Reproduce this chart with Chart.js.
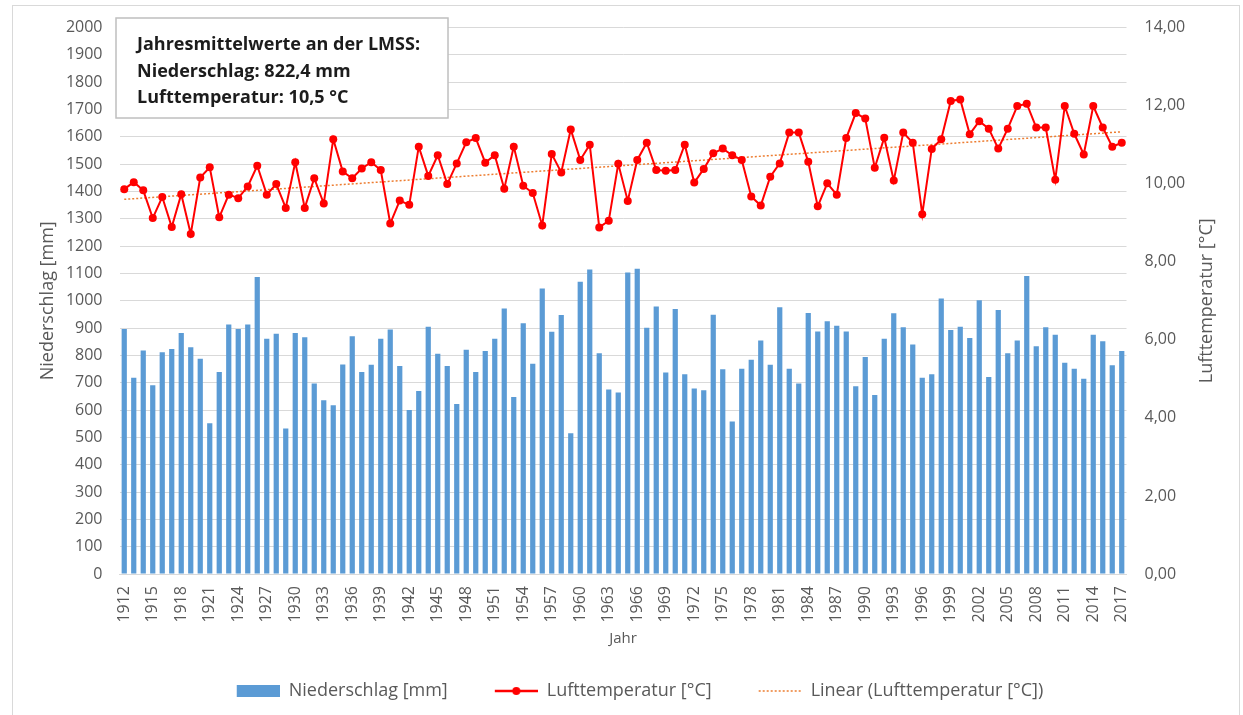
<!DOCTYPE html>
<html>
<head>
<meta charset="utf-8">
<title>Jahresmittelwerte an der LMSS</title>
<script src="https://cdn.jsdelivr.net/npm/chart.js@4.4.0/dist/chart.umd.min.js"></script>
<style>
  html, body { margin: 0; padding: 0; background: #fff; }
  #wrap { position: relative; width: 1243px; height: 715px; }
</style>
</head>
<body>
<div id="wrap"><canvas id="chart"></canvas></div>
<script>
// years 1912..2017 (categories)
const firstYear = 1912, lastYear = 2017;
const years = [];
for (let y = firstYear; y <= lastYear; y++) years.push(String(y));

// Niederschlag [mm], one value per year
const niederschlag = [
  897, 718, 818, 691, 812, 824, 882, 830, 788, 552,   // 1912-1921
  739, 913, 897, 913, 1087, 861, 879, 533, 882, 867,  // 1922-1931
  697, 636, 618, 767, 870, 739, 766, 861, 895, 761,   // 1932-1941
  600, 670, 905, 806, 761, 622, 821, 739, 816, 861,   // 1942-1951
  972, 648, 918, 770, 1045, 887, 948, 515, 1070, 1115,// 1952-1961
  808, 675, 664, 1104, 1117, 901, 979, 738, 970, 731, // 1962-1971
  679, 673, 949, 749, 558, 751, 784, 855, 766, 976,   // 1972-1981
  751, 697, 955, 888, 925, 909, 888, 687, 794, 655,   // 1982-1991
  861, 954, 903, 840, 718, 731, 1008, 893, 905, 864,  // 1992-2001
  1002, 721, 966, 808, 855, 1091, 834, 903, 876, 773, // 2002-2011
  751, 715, 876, 852, 764, 816                        // 2012-2017
];

// Lufttemperatur [°C], one value per year
const lufttemperatur = [
  9.86, 10.04, 9.83, 9.12, 9.66, 8.89, 9.73, 8.71, 10.16, 10.42,   // 1912-1921
  9.14, 9.72, 9.63, 9.93, 10.46, 9.72, 9.99, 9.38, 10.55, 9.38,    // 1922-1931
  10.14, 9.49, 11.14, 10.31, 10.14, 10.39, 10.55, 10.35, 8.98, 9.57, // 1932-1941
  9.46, 10.95, 10.20, 10.73, 9.99, 10.52, 11.06, 11.17, 10.54, 10.73, // 1942-1951
  9.87, 10.95, 9.95, 9.76, 8.93, 10.76, 10.29, 11.39, 10.61, 11.00, // 1952-1961
  8.88, 9.05, 10.51, 9.56, 10.61, 11.05, 10.35, 10.33, 10.35, 11.00, // 1962-1971
  10.03, 10.38, 10.78, 10.90, 10.73, 10.61, 9.67, 9.44, 10.18, 10.52, // 1972-1981
  11.31, 11.31, 10.56, 9.42, 10.01, 9.72, 11.17, 11.81, 11.67, 10.41, // 1982-1991
  11.18, 10.08, 11.31, 11.05, 9.22, 10.89, 11.14, 12.12, 12.16, 11.27, // 1992-2001
  11.60, 11.41, 10.90, 11.41, 11.99, 12.05, 11.44, 11.44, 10.10, 11.99, // 2002-2011
  11.28, 10.75, 11.99, 11.44, 10.95, 11.05                            // 2012-2017
];

// linear trend, start and end value
const trendStart = 9.60;
const trendEnd = 11.33;
const trend = years.map((_, i) => i === 0 ? trendStart : (i === years.length - 1 ? trendEnd : null));

const precipTicks = { min: 0, max: 2000, step: 100 };
const tempTicks = { min: 0, max: 14, step: 2 };

const infoLines = [
  'Jahresmittelwerte an der LMSS:',
  'Niederschlag: 822,4 mm',
  'Lufttemperatur: 10,5 °C'
];

const FONT = "'Open Sans', 'Liberation Sans', sans-serif";
const GREY = '#595959';
const BLUE = '#5b9bd5';
const RED = '#ff0000';
const ORANGE = '#ed7d31';

// legend icons (left part transparent, acts as spacing)
function makeIcon(draw) {
  const c = document.createElement('canvas');
  c.width = 80; c.height = 16;
  draw(c.getContext('2d'));
  return c;
}
const icons = [
  makeIcon(g => { g.fillStyle = BLUE; g.fillRect(37, 2, 45, 12); }),
  makeIcon(g => {
    g.strokeStyle = RED; g.lineWidth = 2.5;
    g.beginPath(); g.moveTo(37, 8); g.lineTo(80, 8); g.stroke();
    g.fillStyle = RED; g.beginPath(); g.arc(58.5, 8, 4, 0, Math.PI * 2); g.fill();
  }),
  makeIcon(g => {
    g.strokeStyle = ORANGE; g.lineWidth = 1.5; g.setLineDash([2, 2]);
    g.beginPath(); g.moveTo(37, 8); g.lineTo(80, 8); g.stroke();
  })
];

// outer frame
const framePlugin = {
  id: 'frame',
  beforeDraw(chart) {
    const ctx = chart.ctx;
    ctx.save();
    ctx.fillStyle = '#fff';
    ctx.fillRect(0, 0, chart.width, chart.height);
    ctx.strokeStyle = '#d9d9d9';
    ctx.lineWidth = 1;
    ctx.strokeRect(12.5, 5.5, 1227, 720);
    ctx.restore();
  }
};

// text box top left + right axis title (reads bottom to top like Excel)
const extrasPlugin = {
  id: 'extras',
  afterDraw(chart) {
    const ctx = chart.ctx;
    const area = chart.chartArea;
    ctx.save();
    ctx.fillStyle = '#fff';
    ctx.fillRect(116, 18, 332, 100);
    ctx.strokeStyle = '#bfbfbf';
    ctx.lineWidth = 1.5;
    ctx.strokeRect(116, 18, 332, 100);
    ctx.fillStyle = '#1c1c1c';
    ctx.font = 'bold 18px ' + FONT;
    ctx.textBaseline = 'middle';
    infoLines.forEach((t, i) => ctx.fillText(t, 137, 45 + i * 26.5));

    ctx.translate(1207, (area.top + area.bottom) / 2);
    ctx.rotate(-Math.PI / 2);
    ctx.textAlign = 'center';
    ctx.fillStyle = GREY;
    ctx.font = '18px ' + FONT;
    ctx.fillText('Lufttemperatur [°C]', 0, 0);
    ctx.restore();
  }
};

new Chart(document.getElementById('chart'), {
  data: {
    labels: years,
    datasets: [
      {
        type: 'bar',
        label: 'Niederschlag [mm]',
        data: niederschlag,
        backgroundColor: BLUE,
        barPercentage: 0.55,
        categoryPercentage: 1,
        yAxisID: 'y'
      },
      {
        type: 'line',
        label: 'Lufttemperatur [°C]',
        data: lufttemperatur,
        borderColor: RED,
        backgroundColor: RED,
        borderWidth: 2,
        pointRadius: 4,
        pointBorderWidth: 0,
        pointBackgroundColor: RED,
        tension: 0,
        yAxisID: 'y1'
      },
      {
        type: 'line',
        label: 'Linear (Lufttemperatur [°C])',
        data: trend,
        borderColor: ORANGE,
        borderWidth: 1.5,
        borderDash: [2, 2],
        pointRadius: 0,
        spanGaps: true,
        yAxisID: 'y1'
      }
    ]
  },
  options: {
    responsive: true,
    maintainAspectRatio: false,
    animation: false,
    layout: { padding: { top: 25, bottom: 5, left: 0, right: 0 } },
    scales: {
      x: {
        type: 'category',
        grid: { display: false, drawTicks: false },
        border: { display: true, color: '#d9d9d9' },
        ticks: {
          autoSkip: false,
          maxRotation: 90,
          minRotation: 90,
          padding: 12,
          color: GREY,
          font: { size: 16, family: FONT },
          callback(value, index) { return index % 3 === 0 ? this.getLabelForValue(value) : ''; }
        },
        title: {
          display: true,
          text: 'Jahr',
          color: GREY,
          font: { size: 15, family: FONT },
          padding: { top: 0, bottom: 24 }
        },
        afterFit(scale) { scale.height = 98; }
      },
      y: {
        position: 'left',
        min: precipTicks.min,
        max: precipTicks.max,
        grid: { color: '#d9d9d9', drawTicks: false },
        border: { display: false },
        ticks: {
          stepSize: precipTicks.step,
          padding: 17,
          color: GREY,
          font: { size: 16, family: FONT },
          callback: v => String(v)
        },
        title: {
          display: true,
          text: 'Niederschlag [mm]',
          color: GREY,
          font: { size: 18, family: FONT },
          padding: { top: 37, bottom: 0 }
        },
        afterFit(scale) { scale.width = 119.5; }
      },
      y1: {
        position: 'right',
        min: tempTicks.min,
        max: tempTicks.max,
        grid: { display: false, drawTicks: false },
        border: { display: false },
        ticks: {
          stepSize: tempTicks.step,
          padding: 18,
          color: GREY,
          font: { size: 16, family: FONT },
          callback: v => v.toFixed(2).replace('.', ',')
        },
        afterFit(scale) { scale.width = 116.5; }
      }
    },
    plugins: {
      tooltip: { enabled: false },
      legend: {
        position: 'bottom',
        labels: {
          usePointStyle: true,
          pointStyleWidth: 80,
          padding: 10,
          color: GREY,
          font: { size: 18, family: FONT },
          generateLabels(chart) {
            const items = Chart.defaults.plugins.legend.labels.generateLabels(chart);
            items.forEach(it => { it.pointStyle = icons[it.datasetIndex]; });
            return items;
          }
        }
      }
    }
  },
  plugins: [framePlugin, extrasPlugin]
});
</script>
</body>
</html>
